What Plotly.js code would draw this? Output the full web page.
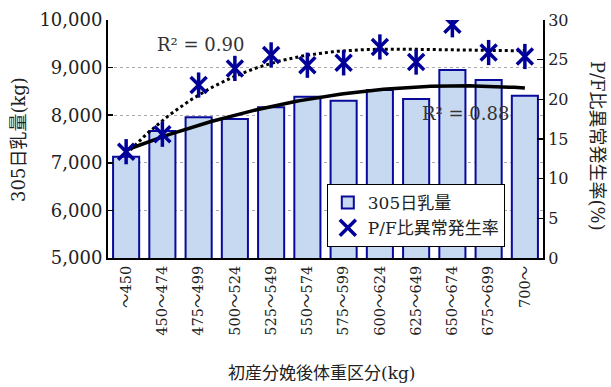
<!DOCTYPE html>
<html><head><meta charset="utf-8">
<script src="https://cdn.plot.ly/plotly-3.0.1.min.js"></script>
<style>body{margin:0;background:#fff}</style>
</head><body><div id="chart" style="width:611px;height:387px"></div>
<script>
const categories = ["～450","450～474","475～499","500～524","525～549","550～574","575～599","600～624","625～649","650～674","675～699","700～"];
const milkYield = [7128,7668,7956,7920,8166,8390,8305,8530,8340,8950,8740,8410];
const pfRate = [13.4,15.6,21.8,23.9,25.6,24.3,24.6,26.6,24.7,29.4,25.9,25.4];
const seriesNames = ["305日乳量","P/F比異常発生率"];
const r2Labels = ["R² = 0.90","R² = 0.88"];

const xs = categories.map((c,i)=>i+1);

function polyfit(x, y, order){
  const n = order+1;
  const A = Array.from({length:n},()=>new Array(n+1).fill(0));
  for(let r=0;r<n;r++){
    for(let c=0;c<n;c++){ let s=0; for(let k=0;k<x.length;k++) s+=Math.pow(x[k],r+c); A[r][c]=s; }
    let s=0; for(let k=0;k<x.length;k++) s+=y[k]*Math.pow(x[k],r); A[r][n]=s;
  }
  for(let i=0;i<n;i++){
    let p=i; for(let j=i+1;j<n;j++) if(Math.abs(A[j][i])>Math.abs(A[p][i])) p=j;
    [A[i],A[p]]=[A[p],A[i]];
    for(let j=0;j<n;j++){ if(j===i) continue; const f=A[j][i]/A[i][i]; for(let c=i;c<=n;c++) A[j][c]-=f*A[i][c]; }
  }
  return A.map((row,i)=>row[n]/row[i]);
}
function evalPoly(coef, x){ return coef.reduce((s,c,i)=>s+c*Math.pow(x,i),0); }

const milkCoef = polyfit(xs, milkYield, 2);
const pfCoef = polyfit(xs, pfRate, 3);
const fineX = [];
for(let t=1;t<=12.0001;t+=0.1) fineX.push(t);

const starColor = '#000099';
const serif = 'DejaVu Serif, Noto Sans CJK JP, serif';
const jp = 'DejaVu Serif, Noto Sans CJK JP, sans-serif';

const traces = [
  {type:'bar', x:xs, y:milkYield, name:seriesNames[0], width:0.72,
   marker:{color:'#c6d9f1', line:{color:'#0a0a9a', width:2}}, yaxis:'y'},
  {type:'scatter', mode:'lines', x:fineX, y:fineX.map(v=>evalPoly(milkCoef,v)),
   line:{color:'#000', width:3.5}, showlegend:false, hoverinfo:'skip', yaxis:'y'},
  {type:'scatter', mode:'lines', x:fineX, y:fineX.map(v=>evalPoly(pfCoef,v)),
   line:{color:'#000', width:3, dash:'dot'}, showlegend:false, hoverinfo:'skip', yaxis:'y2'},
  {type:'scatter', mode:'markers', x:xs, y:pfRate, name:seriesNames[1], yaxis:'y2',
   marker:{symbol:'x-thin-open', size:16, line:{color:starColor, width:3.5}, color:starColor}},
  {type:'scatter', mode:'markers', x:xs, y:pfRate, showlegend:false, yaxis:'y2',
   marker:{symbol:'line-ns-open', size:18, line:{color:starColor, width:3.5}, color:starColor}}
];

const layout = {
  width:611, height:387,
  margin:{l:108, r:68, t:20, b:129},
  paper_bgcolor:'#fff', plot_bgcolor:'#fff',
  showlegend:true,
  bargap:0.28,
  font:{family:serif, color:'#222'},
  xaxis:{range:[0.5,12.5], tickmode:'array', tickvals:xs, ticktext:categories,
    tickangle:-90, tickfont:{size:14.5, family:jp, color:'#222'}, showgrid:false, zeroline:false,
    showline:true, linecolor:'#000', linewidth:2, ticks:'', fixedrange:true},
  yaxis:{range:[5000,10000], tickvals:[5000,6000,7000,8000,9000,10000],
    ticktext:['5,000','6,000','7,000','8,000','9,000','10,000'],
    tickfont:{size:18, family:serif, color:'#222'}, showgrid:true, gridcolor:'#aaa', griddash:'dot', gridwidth:1,
    showline:true, linecolor:'#000', linewidth:2, ticks:'inside', ticklen:5, tickcolor:'#000', tickwidth:1.5, zeroline:false},
  yaxis2:{range:[0,30], overlaying:'y', side:'right', tickvals:[0,5,10,15,20,25,30],
    tickfont:{size:16, family:serif, color:'#222'}, showgrid:false,
    showline:true, linecolor:'#000', linewidth:2, ticks:'inside', ticklen:6, tickcolor:'#000', tickwidth:1.5, zeroline:false},
  legend:{x:0.503, y:0.046, xanchor:'left', yanchor:'bottom', bgcolor:'#fff', bordercolor:'#000', borderwidth:1,
    font:{size:17, family:jp, color:'#222'}, itemwidth:30, tracegroupgap:0},
  annotations:[
    {xref:'x', yref:'y', x:3.04, y:9475, text:r2Labels[0], showarrow:false, font:{size:18, family:serif, color:'#333'}},
    {xref:'x', yref:'y', x:10.35, y:8046, text:r2Labels[1], showarrow:false, font:{size:18, family:serif, color:'#333'}},
    {xref:'paper', yref:'paper', x:-0.207, y:0.5, xanchor:'center', yanchor:'middle', text:'305日乳量(kg)', textangle:-90,
     showarrow:false, font:{size:18, family:jp, color:'#222'}},
    {xref:'paper', yref:'paper', x:1.127, y:0.47, xanchor:'center', yanchor:'middle', text:'P/F比異常発生率(%)', textangle:90,
     showarrow:false, font:{size:18, family:jp, color:'#222'}},
    {xref:'paper', yref:'paper', x:0.49, y:-0.485, xanchor:'center', yanchor:'middle', text:'初産分娩後体重区分(kg)',
     showarrow:false, font:{size:17, family:jp, color:'#222'}}
  ]
};

Plotly.newPlot('chart', traces, layout, {displayModeBar:false, staticPlot:true});
</script>
</body></html>
